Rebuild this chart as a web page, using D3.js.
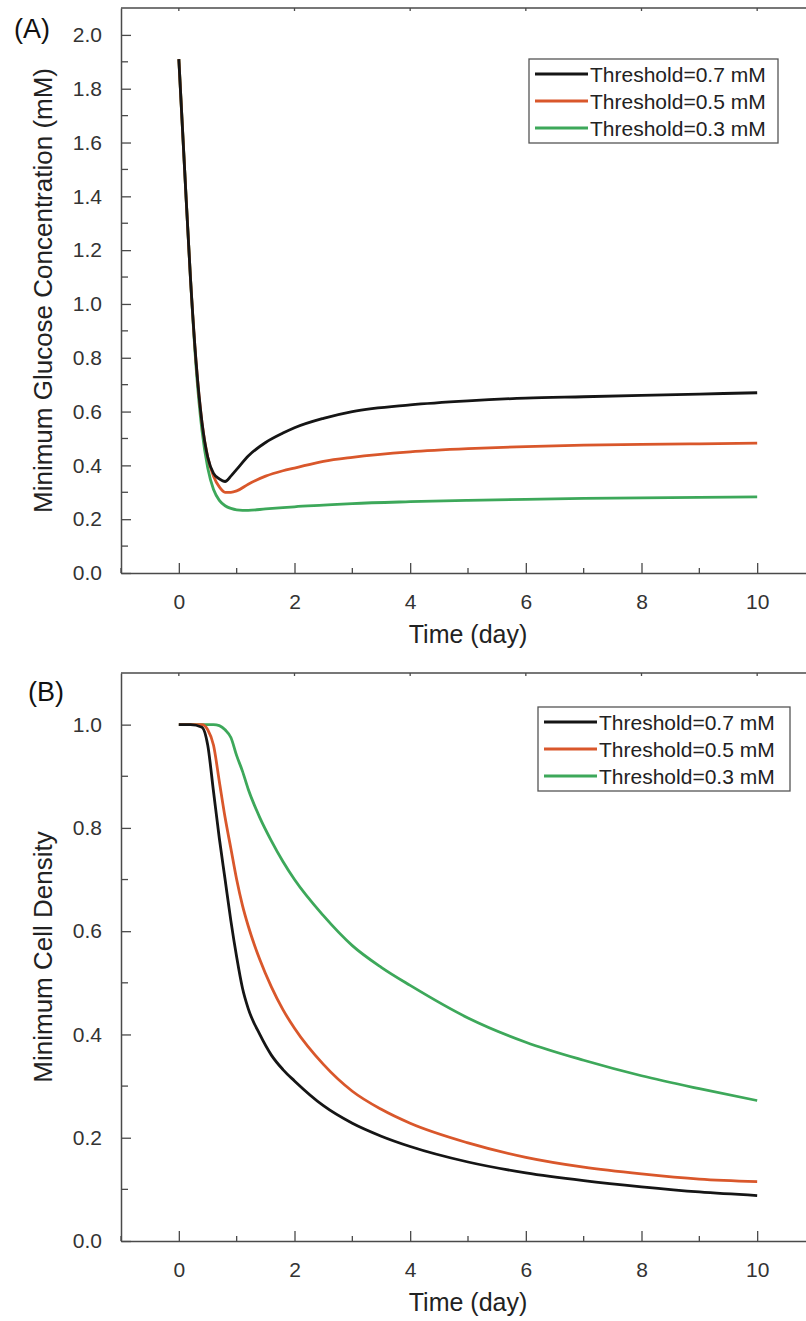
<!DOCTYPE html>
<html>
<head>
<meta charset="utf-8">
<script src="https://cdn.jsdelivr.net/npm/d3@7"></script>
<style>
  body { margin: 0; background: #fff; }
  svg text { font-family: "Liberation Sans", Arial, sans-serif; }
</style>
</head>
<body>
<svg id="chart" width="806" height="1321"></svg>
<script>
// panel A: minimum glucose concentration
var timeA = [0, 0.1, 0.2, 0.3, 0.4, 0.5, 0.6, 0.7, 0.8, 0.9, 1.0, 1.2, 1.5, 1.8, 2, 2.5, 3, 4, 5, 6, 7, 8, 9, 10];
var glucose07 = [1.91, 1.5, 1.1, 0.78, 0.56, 0.43, 0.37, 0.35, 0.34, 0.36, 0.385, 0.435, 0.485, 0.52, 0.54, 0.575, 0.60, 0.625, 0.64, 0.65, 0.655, 0.66, 0.665, 0.67];
var glucose05 = [1.91, 1.5, 1.1, 0.78, 0.56, 0.43, 0.36, 0.32, 0.30, 0.30, 0.305, 0.33, 0.36, 0.38, 0.39, 0.415, 0.43, 0.45, 0.462, 0.47, 0.475, 0.478, 0.48, 0.483];
var glucose03 = [1.91, 1.5, 1.1, 0.76, 0.53, 0.39, 0.31, 0.27, 0.25, 0.24, 0.235, 0.233, 0.238, 0.243, 0.246, 0.252, 0.258, 0.265, 0.27, 0.274, 0.277, 0.279, 0.281, 0.283];

// panel B: minimum cell density
var timeB = [0, 0.2, 0.4, 0.5, 0.6, 0.7, 0.8, 0.9, 1.0, 1.1, 1.2, 1.4, 1.6, 1.8, 2, 2.5, 3, 3.5, 4, 5, 6, 7, 8, 9, 10];
var density07 = [1, 1, 0.995, 0.96, 0.87, 0.78, 0.70, 0.62, 0.55, 0.49, 0.45, 0.40, 0.36, 0.332, 0.31, 0.262, 0.228, 0.203, 0.183, 0.153, 0.132, 0.117, 0.105, 0.095, 0.088];
var density05 = [1, 1, 1, 0.99, 0.96, 0.89, 0.82, 0.76, 0.70, 0.65, 0.61, 0.545, 0.492, 0.448, 0.412, 0.342, 0.29, 0.255, 0.228, 0.19, 0.162, 0.143, 0.13, 0.12, 0.115];
var density03 = [1, 1, 1, 1, 1, 0.998, 0.99, 0.975, 0.94, 0.91, 0.875, 0.82, 0.775, 0.735, 0.70, 0.63, 0.572, 0.53, 0.495, 0.432, 0.385, 0.35, 0.32, 0.295, 0.272];

var seriesNames = ["Threshold=0.7 mM", "Threshold=0.5 mM", "Threshold=0.3 mM"];
var seriesColors = ["#151515", "#d9572b", "#3da85a"];

var xTicks = [0, 2, 4, 6, 8, 10];
var yTicksA = [0, 0.2, 0.4, 0.6, 0.8, 1.0, 1.2, 1.4, 1.6, 1.8, 2.0];
var yTicksB = [0, 0.2, 0.4, 0.6, 0.8, 1.0];

var axisColor = "#4a4a4a";
var svg = d3.select("#chart");

var drawPanel = function(pars) {
  var x = d3.scaleLinear().domain([-1, 11]).range([121, 815]);
  var y = d3.scaleLinear().domain(pars.yDomain).range([pars.bottom, pars.top]);
  var g = svg.append("g");

  // frame: top line + left line + bottom
  g.append("line").attr("x1", x(-1)).attr("x2", x(11)).attr("y1", pars.top).attr("y2", pars.top)
    .attr("stroke", axisColor).attr("stroke-width", 1.5);

  // bottom axis, ticks pointing inward
  var minorX = d3.range(-1, 12, 1).filter(function(d) { return d % 2 !== 0; });
  var xAxis = d3.axisBottom(x).tickValues(xTicks).tickSizeInner(-10).tickSizeOuter(0)
    .tickPadding(21).tickFormat(d3.format("d"));
  var gx = g.append("g").attr("transform", "translate(0," + pars.bottom + ")").call(xAxis);
  gx.select(".domain").attr("stroke", axisColor).attr("stroke-width", 1.5);
  gx.selectAll(".tick line").attr("stroke", axisColor).attr("stroke-width", 1.3);
  gx.selectAll(".tick text").attr("fill", "#333").style("font-size", "21px");
  gx.selectAll(".minor").data(minorX).enter().append("line")
    .attr("x1", function(d) { return x(d); }).attr("x2", function(d) { return x(d); })
    .attr("y1", 0).attr("y2", -5).attr("stroke", axisColor).attr("stroke-width", 1.3);

  // tiny ticks on the top line
  g.selectAll(".topTick").data(xTicks).enter().append("line")
    .attr("x1", function(d) { return x(d); }).attr("x2", function(d) { return x(d); })
    .attr("y1", pars.top).attr("y2", pars.top + 3).attr("stroke", axisColor).attr("stroke-width", 1.3);

  // left axis
  var yAxis = d3.axisLeft(y).tickValues(pars.yTicks).tickSizeInner(-10).tickSizeOuter(0)
    .tickPadding(19).tickFormat(d3.format(".1f"));
  var gy = g.append("g").attr("transform", "translate(" + x(-1) + ",0)").call(yAxis);
  gy.select(".domain").attr("stroke", axisColor).attr("stroke-width", 1.5);
  gy.selectAll(".tick line").attr("stroke", axisColor).attr("stroke-width", 1.3);
  gy.selectAll(".tick text").attr("fill", "#333").style("font-size", "21px");
  gy.selectAll(".minor").data(pars.yTicks.slice(1).map(function(d) { return d - 0.1; })).enter().append("line")
    .attr("x1", 0).attr("x2", 7)
    .attr("y1", function(d) { return y(d); }).attr("y2", function(d) { return y(d); })
    .attr("stroke", axisColor).attr("stroke-width", 1.3);

  // curves
  var line = d3.line()
    .x(function(d) { return x(d[0]); })
    .y(function(d) { return y(d[1]); })
    .curve(d3.curveMonotoneX);
  pars.series.slice().reverse().forEach(function(vals, j) {
    var i = pars.series.length - 1 - j;
    var pts = pars.time.map(function(t, k) { return [t, vals[k]]; });
    g.append("path").datum(pts).attr("d", line)
      .attr("fill", "none").attr("stroke", seriesColors[i]).attr("stroke-width", 2.8)
      .attr("stroke-linejoin", "round");
  });

  // titles
  g.append("text").attr("x", pars.labelX).attr("y", pars.labelY)
    .style("font-size", "27px").attr("fill", "#111").text(pars.label);
  g.append("text").attr("x", 468).attr("y", pars.bottom + 70)
    .attr("text-anchor", "middle").style("font-size", "25px").attr("fill", "#222").text("Time (day)");
  g.append("text")
    .attr("transform", "translate(52," + ((pars.top + pars.bottom) / 2) + ") rotate(-90)")
    .attr("text-anchor", "middle").style("font-size", "26px").attr("fill", "#222").text(pars.yTitle);

  // legend
  var lg = g.append("g").attr("transform", "translate(" + pars.legendX + "," + pars.legendY + ")");
  lg.append("rect").attr("width", pars.legendW).attr("height", 84)
    .attr("fill", "#fff").attr("stroke", "#555").attr("stroke-width", 1.3);
  var rows = lg.selectAll(".row").data(seriesNames).enter().append("g")
    .attr("transform", function(d, i) { return "translate(0," + (15 + i * 27) + ")"; });
  rows.append("line").attr("x1", 6).attr("x2", 59).attr("y1", 0).attr("y2", 0)
    .attr("stroke", function(d, i) { return seriesColors[i]; }).attr("stroke-width", 2.8);
  rows.append("text").attr("x", 61).attr("y", 8)
    .style("font-size", "21px").attr("fill", "#222").text(function(d) { return d; });
};

drawPanel({
  top: 8, bottom: 573, yDomain: [0, 2.1], yTicks: yTicksA,
  time: timeA, series: [glucose07, glucose05, glucose03],
  label: "(A)", labelX: 14, labelY: 38,
  yTitle: "Minimum Glucose Concentration (mM)",
  legendX: 529, legendY: 59, legendW: 249
});

drawPanel({
  top: 673, bottom: 1241, yDomain: [0, 1.1], yTicks: yTicksB,
  time: timeB, series: [density07, density05, density03],
  label: "(B)", labelX: 28, labelY: 701,
  yTitle: "Minimum Cell Density",
  legendX: 538, legendY: 707, legendW: 252
});
</script>
</body>
</html>
